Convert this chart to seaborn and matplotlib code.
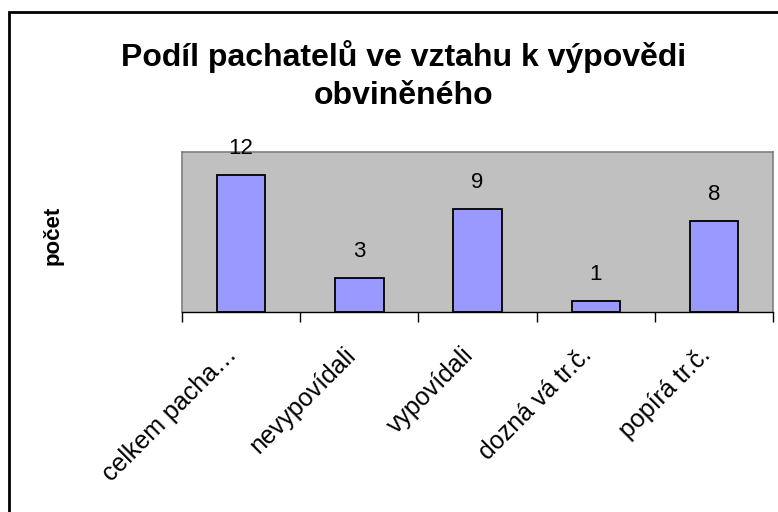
import matplotlib
matplotlib.use("Agg")
import matplotlib.pyplot as plt
import matplotlib.transforms as mtransforms
import seaborn as sns
import pandas as pd
from matplotlib.patches import Rectangle

categories = ["celkem pacha…", "nevypovídali", "vypovídali", "dozná vá tr.č.", "popírá tr.č."]
values = [12, 3, 9, 1, 8]
title = "Podíl pachatelů ve vztahu k výpovědi\nobviněného"

def main():
    sns.set_theme(style="white")
    plt.rcParams["font.family"] = ["Liberation Sans", "DejaVu Sans"]
    plt.rcParams["text.color"] = "black"
    plt.rcParams["xtick.color"] = "black"

    df = pd.DataFrame({"kategorie": categories, "pocet": values})

    fig = plt.figure(figsize=(7.78, 5.12), dpi=100)
    ax = fig.add_axes([0.234, 0.3906, 0.7597, 0.3125])
    ax.set_facecolor("#C0C0C0")

    sns.barplot(data=df, x="kategorie", y="pocet", color="#9999FF",
                saturation=1, width=0.41, edgecolor="black", linewidth=1.3, ax=ax)

    # value labels above the bars
    for i, v in enumerate(values):
        ax.text(i, v + 1.4, str(v), ha="center", va="bottom", fontsize=16, color="black")

    ax.set_ylim(0, 14)
    ax.set_xlim(-0.5, len(categories) - 0.5)
    ax.set_yticks([])
    # ticks at category boundaries, labels at the centres
    ax.set_xticks([i - 0.5 for i in range(len(categories) + 1)])
    ax.set_xticklabels([])
    ax.tick_params(axis="x", which="major", length=7, width=1, color="black", direction="out", bottom=True)
    ax.set_xticks(range(len(categories)), minor=True)
    ax.set_xticklabels(categories, minor=True, rotation=45, ha="right",
                       rotation_mode="anchor", fontsize=18)
    ax.tick_params(axis="x", which="minor", length=0, pad=22)
    shift = mtransforms.ScaledTranslation(-16 / 100, 0, fig.dpi_scale_trans)
    for lbl in ax.get_xticklabels(minor=True):
        lbl.set_transform(lbl.get_transform() + shift)

    for side in ["top", "right", "left"]:
        ax.spines[side].set_color("#808080")
        ax.spines[side].set_linewidth(1.2)
    ax.spines["bottom"].set_color("black")
    ax.spines["bottom"].set_linewidth(1)

    ax.set_xlabel("")
    ax.set_ylabel("")
    fig.text(0.068, 0.541, "počet", rotation=90, ha="center", va="center",
             fontsize=16, fontweight="bold")

    fig.text(0.519, 0.852, title, ha="center", va="center", fontsize=23,
             fontweight="bold", linespacing=1.35)

    # outer chart border
    fig.patches.append(Rectangle((0.011, -0.05), 1.1, 0.9756 + 0.05, transform=fig.transFigure,
                                 fill=False, edgecolor="black", linewidth=2))

    fig.savefig("out.png", dpi=100)

if __name__ == "__main__":
    main()
